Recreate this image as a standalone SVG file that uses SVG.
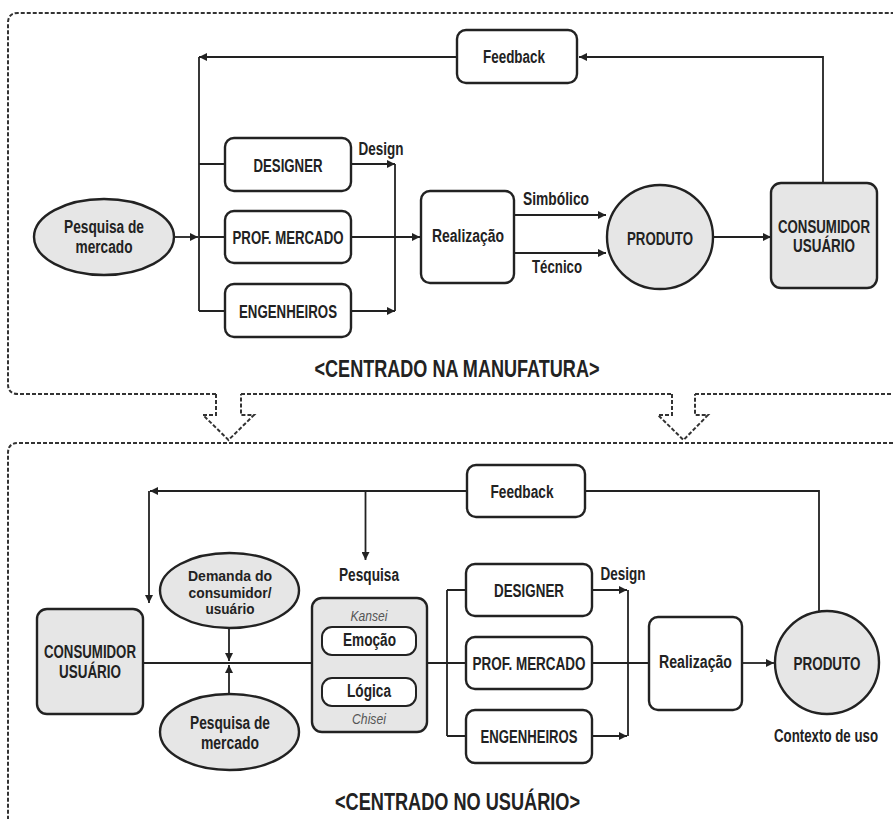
<svg xmlns="http://www.w3.org/2000/svg" width="893" height="819" viewBox="0 0 893 819">
  <defs>
    <style>
      .panel { fill: none; stroke: #333; stroke-width: 2; stroke-dasharray: 4 2; }
      .box { fill: #fff; stroke: #222; stroke-width: 2.4; }
      .grey { fill: #e6e6e6; stroke: #222; stroke-width: 2.4; }
      .inner { fill: #fff; stroke: #222; stroke-width: 2; }
      .wire { fill: none; stroke: #222; stroke-width: 1.8; }
      .arrow { fill: none; stroke: #222; stroke-width: 1.8; marker-end: url(#head); }
      text { font-family: "Liberation Sans", Arial, sans-serif; font-weight: bold; font-size: 17.5px; fill: #222; text-anchor: middle; }
      .small { font-size: 15.5px; }
      .title { font-size: 23px; }
      .note { font-weight: normal; font-style: italic; font-size: 14.5px; fill: #555; }
    </style>
    <marker id="head" viewBox="0 0 10 10" refX="10" refY="5" markerWidth="9" markerHeight="8" markerUnits="userSpaceOnUse" orient="auto">
      <path d="M0,0 L10,5 L0,10 z" fill="#222"/>
    </marker>
  </defs>

  <!-- dashed panels and transition arrows -->
  <g id="panels">
    <path class="panel" d="M216,394 H18 Q8,394 8,384 V23 Q8,13 18,13 H893"/>
    <path class="panel" d="M241,394 H672"/>
    <path class="panel" d="M695,394 H893"/>
    <path class="panel" d="M216,394 V415 H203 L228.5,440 L254,415 H241 V394"/>
    <path class="panel" d="M672,394 V415 H658 L683.5,440 L708,415 H695 V394"/>
    <path class="panel" d="M893,443 H18 Q8,443 8,453 V819"/>
  </g>

  <!-- connectors -->
  <g id="connectors">
    <!-- upper flow -->
    <path class="arrow" d="M457,57 H199"/>
    <path class="wire" d="M199,57 V311"/>
    <path class="wire" d="M199,164 H225 M199,237 H225 M199,311 H225"/>
    <path class="arrow" d="M174,237 H198"/>
    <path class="arrow" d="M351,164 H395"/>
    <path class="arrow" d="M351,311 H395"/>
    <path class="wire" d="M395,164 V311"/>
    <path class="arrow" d="M351,237 H420"/>
    <path class="arrow" d="M514,215 H606"/>
    <path class="arrow" d="M514,253 H606"/>
    <path class="arrow" d="M713,237 H771"/>
    <path class="arrow" d="M823,183 V57 H579"/>

    <!-- lower flow -->
    <path class="arrow" d="M467,491 H150"/>
    <path class="arrow" d="M149,491 V603"/>
    <path class="arrow" d="M365.5,491 V560"/>
    <path class="wire" d="M585,491 H819 V611"/>
    <path class="wire" d="M143,663 H312"/>
    <path class="arrow" d="M229,628 V661"/>
    <path class="arrow" d="M229,694 V665"/>
    <path class="wire" d="M427,663 H447 M447,590 V736"/>
    <path class="wire" d="M447,590 H466 M447,663 H466 M447,736 H466"/>
    <path class="arrow" d="M592,590 H627"/>
    <path class="arrow" d="M592,736 H627"/>
    <path class="wire" d="M628,590 V736"/>
    <path class="wire" d="M592,663 H649"/>
    <path class="arrow" d="M742,663 H774"/>
  </g>

  <!-- upper nodes -->
  <g id="feedback-top">
    <rect class="box" x="457" y="30" width="120" height="53" rx="9"/>
    <text x="514" y="63" textLength="62" lengthAdjust="spacingAndGlyphs">Feedback</text>
  </g>
  <g id="pesquisa-mercado-top">
    <ellipse class="grey" cx="104" cy="237" rx="70" ry="38"/>
    <text x="104" y="233" textLength="80" lengthAdjust="spacingAndGlyphs">Pesquisa de</text>
    <text x="104" y="253" textLength="57" lengthAdjust="spacingAndGlyphs">mercado</text>
  </g>
  <g id="designer-top">
    <rect class="box" x="225" y="138" width="126" height="53" rx="9"/>
    <text x="288" y="172" textLength="69" lengthAdjust="spacingAndGlyphs">DESIGNER</text>
  </g>
  <g id="prof-mercado-top">
    <rect class="box" x="225" y="211" width="126" height="52" rx="9"/>
    <text x="288" y="244" textLength="111" lengthAdjust="spacingAndGlyphs">PROF. MERCADO</text>
  </g>
  <g id="engenheiros-top">
    <rect class="box" x="225" y="284" width="126" height="53" rx="9"/>
    <text x="288" y="318" textLength="98" lengthAdjust="spacingAndGlyphs">ENGENHEIROS</text>
  </g>
  <g id="design-label-top">
    <text x="381" y="155" textLength="45" lengthAdjust="spacingAndGlyphs">Design</text>
  </g>
  <g id="realizacao-top">
    <rect class="box" x="421" y="191" width="93" height="92" rx="9"/>
    <text x="468" y="242" textLength="72" lengthAdjust="spacingAndGlyphs">Realização</text>
  </g>
  <g id="edge-labels-top">
    <text x="556" y="205" textLength="66" lengthAdjust="spacingAndGlyphs">Simbólico</text>
    <text x="557" y="273" textLength="50" lengthAdjust="spacingAndGlyphs">Técnico</text>
  </g>
  <g id="produto-top">
    <ellipse class="grey" cx="660" cy="237" rx="53" ry="52"/>
    <text x="660" y="245" textLength="66" lengthAdjust="spacingAndGlyphs">PRODUTO</text>
  </g>
  <g id="consumidor-top">
    <rect class="grey" x="771" y="183" width="106" height="105" rx="10"/>
    <text x="824" y="233" textLength="92" lengthAdjust="spacingAndGlyphs">CONSUMIDOR</text>
    <text x="824" y="252" textLength="62" lengthAdjust="spacingAndGlyphs">USUÁRIO</text>
  </g>
  <g id="title-top">
    <text class="title" x="457" y="377" textLength="285" lengthAdjust="spacingAndGlyphs">&lt;CENTRADO NA MANUFATURA&gt;</text>
  </g>

  <!-- lower nodes -->
  <g id="feedback-bottom">
    <rect class="box" x="467" y="465" width="118" height="52" rx="9"/>
    <text x="522" y="498" textLength="63" lengthAdjust="spacingAndGlyphs">Feedback</text>
  </g>
  <g id="pesquisa-label">
    <text x="369" y="581" textLength="60" lengthAdjust="spacingAndGlyphs">Pesquisa</text>
  </g>
  <g id="consumidor-bottom">
    <rect class="grey" x="37" y="609" width="106" height="105" rx="10"/>
    <text x="90" y="658" textLength="92" lengthAdjust="spacingAndGlyphs">CONSUMIDOR</text>
    <text x="90" y="678" textLength="62" lengthAdjust="spacingAndGlyphs">USUÁRIO</text>
  </g>
  <g id="demanda">
    <ellipse class="grey" cx="229.5" cy="590.5" rx="69.5" ry="37.5"/>
    <text class="small" x="230" y="581" textLength="84" lengthAdjust="spacingAndGlyphs">Demanda do</text>
    <text class="small" x="230" y="597.5" textLength="83" lengthAdjust="spacingAndGlyphs">consumidor/</text>
    <text class="small" x="230" y="614" textLength="49" lengthAdjust="spacingAndGlyphs">usuário</text>
  </g>
  <g id="pesquisa-mercado-bottom">
    <ellipse class="grey" cx="229.5" cy="732" rx="69.5" ry="38"/>
    <text x="230" y="729" textLength="80" lengthAdjust="spacingAndGlyphs">Pesquisa de</text>
    <text x="230" y="749" textLength="58" lengthAdjust="spacingAndGlyphs">mercado</text>
  </g>
  <g id="kansei-chisei">
    <rect class="grey" x="312" y="598" width="115" height="134" rx="10"/>
    <text class="note" x="369" y="621" textLength="37" lengthAdjust="spacingAndGlyphs">Kansei</text>
    <rect class="inner" x="322" y="627" width="94" height="28" rx="10"/>
    <text x="369.5" y="646" textLength="53" lengthAdjust="spacingAndGlyphs">Emoção</text>
    <rect class="inner" x="322" y="678" width="94" height="28" rx="10"/>
    <text x="369" y="697" textLength="44" lengthAdjust="spacingAndGlyphs">Lógica</text>
    <text class="note" x="369" y="724" textLength="34" lengthAdjust="spacingAndGlyphs">Chisei</text>
  </g>
  <g id="designer-bottom">
    <rect class="box" x="466" y="564" width="126" height="52" rx="9"/>
    <text x="529" y="597" textLength="70" lengthAdjust="spacingAndGlyphs">DESIGNER</text>
  </g>
  <g id="prof-mercado-bottom">
    <rect class="box" x="466" y="637" width="126" height="52" rx="9"/>
    <text x="529" y="670" textLength="113" lengthAdjust="spacingAndGlyphs">PROF. MERCADO</text>
  </g>
  <g id="engenheiros-bottom">
    <rect class="box" x="466" y="710" width="126" height="53" rx="9"/>
    <text x="529" y="743" textLength="97" lengthAdjust="spacingAndGlyphs">ENGENHEIROS</text>
  </g>
  <g id="design-label-bottom">
    <text x="623" y="580" textLength="45" lengthAdjust="spacingAndGlyphs">Design</text>
  </g>
  <g id="realizacao-bottom">
    <rect class="box" x="649" y="617" width="93" height="93" rx="9"/>
    <text x="695.5" y="668" textLength="73" lengthAdjust="spacingAndGlyphs">Realização</text>
  </g>
  <g id="produto-bottom">
    <ellipse class="grey" cx="827" cy="662.5" rx="52" ry="51.5"/>
    <text x="827" y="670" textLength="67" lengthAdjust="spacingAndGlyphs">PRODUTO</text>
    <text x="826" y="742" textLength="104" lengthAdjust="spacingAndGlyphs">Contexto de uso</text>
  </g>
  <g id="title-bottom">
    <text class="title" x="457.5" y="810" textLength="245" lengthAdjust="spacingAndGlyphs">&lt;CENTRADO NO USUÁRIO&gt;</text>
  </g>
</svg>
